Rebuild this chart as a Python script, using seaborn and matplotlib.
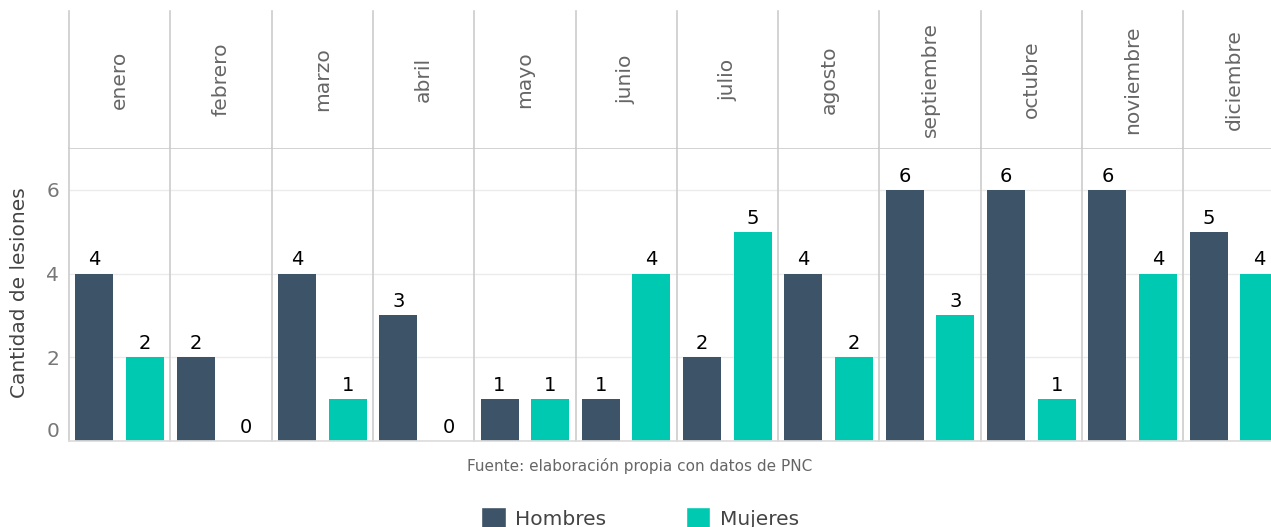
import numpy as np
import pandas as pd
import matplotlib.pyplot as plt
import seaborn as sns
from matplotlib.patches import Patch

sns.set_theme(style="white")
plt.rcParams['font.family'] = ['DejaVu Sans']

# data
meses = ['enero', 'febrero', 'marzo', 'abril', 'mayo', 'junio', 'julio',
         'agosto', 'septiembre', 'octubre', 'noviembre', 'diciembre']
hombres = [4, 2, 4, 3, 1, 1, 2, 4, 6, 6, 6, 5]
mujeres = [2, 0, 1, 0, 1, 4, 5, 2, 3, 1, 4, 4]
sexos = ['Hombres', 'Mujeres']
colores = {'Hombres': '#3d5468', 'Mujeres': '#00c9b2'}

df = pd.DataFrame({
    'mes': np.repeat(meses, 2),
    'sexo': sexos * len(meses),
    'lesiones': np.ravel(np.column_stack([hombres, mujeres])),
})

W, H = 1271, 527
fig = plt.figure(figsize=(W / 100, H / 100), dpi=100)

x0, pw = 69, 101.3
p_top, p_bot, s_top = 148, 441, 11
line_c = '#cccccc'

for i, mes in enumerate(meses):
    left = (x0 + i * pw) / W
    ax = fig.add_axes([left, 1 - p_bot / H, pw / W, (p_bot - p_top) / H])
    sub = df[df['mes'] == mes]
    sns.barplot(data=sub, x='sexo', y='lesiones', hue='sexo', order=sexos,
                hue_order=sexos, palette=colores, width=0.75, legend=False,
                saturation=1, linewidth=0, ax=ax)
    ax.set_xlim(-0.5, 1.5)
    ax.set_ylim(0, 7)
    ax.set_yticks([0, 2, 4, 6])
    ax.grid(axis='y', color='#ebebeb', lw=1)
    ax.set_axisbelow(True)
    ax.set_xticks([])
    ax.set_xlabel('')
    ax.set_ylabel('')
    for s in ['left', 'top']:
        ax.spines[s].set_color(line_c)
        ax.spines[s].set_linewidth(1.2)
    ax.spines['bottom'].set_color('#dddddd')
    ax.spines['right'].set_visible(False)
    for j, v in enumerate(sub['lesiones']):
        ax.annotate(str(v), (j, v), xytext=(0, 3), textcoords='offset points',
                    ha='center', va='bottom', fontsize=14, color='black')
    if i == 0:
        ax.tick_params(axis='y', length=0, pad=7, labelsize=14.5, labelcolor='#777777')
        ax.get_yticklabels()[0].set_va('bottom')
    else:
        ax.tick_params(axis='y', length=0, labelleft=False)

    # strip on top
    st = fig.add_axes([left, 1 - p_top / H, pw / W, (p_top - s_top) / H])
    st.set_xticks([])
    st.set_yticks([])
    for s in ['top', 'right', 'bottom']:
        st.spines[s].set_visible(False)
    st.spines['left'].set_color(line_c)
    st.spines['left'].set_linewidth(1.2)
    st.text(0.5, 0.5, mes, rotation=90, ha='center', va='center',
            fontsize=14.6, color='#666666', transform=st.transAxes)

fig.text(20 / W, 1 - 293 / H, 'Cantidad de lesiones', rotation=90,
         ha='center', va='center', fontsize=14.5, color='#444444')
fig.text(640 / W, 1 - 466 / H, 'Fuente: elaboración propia con datos de PNC',
         ha='center', va='center', fontsize=11, color='#666666')

handles = [Patch(facecolor=colores[s], label=s) for s in sexos]
fig.legend(handles=handles, loc='center', bbox_to_anchor=(640 / W, 1 - 518 / H),
           ncol=2, frameon=False, fontsize=14.5, handlelength=1.2,
           handleheight=1.2, handletextpad=0.45, columnspacing=4,
           labelcolor='#444444')

fig.savefig('out.png', dpi=100)
